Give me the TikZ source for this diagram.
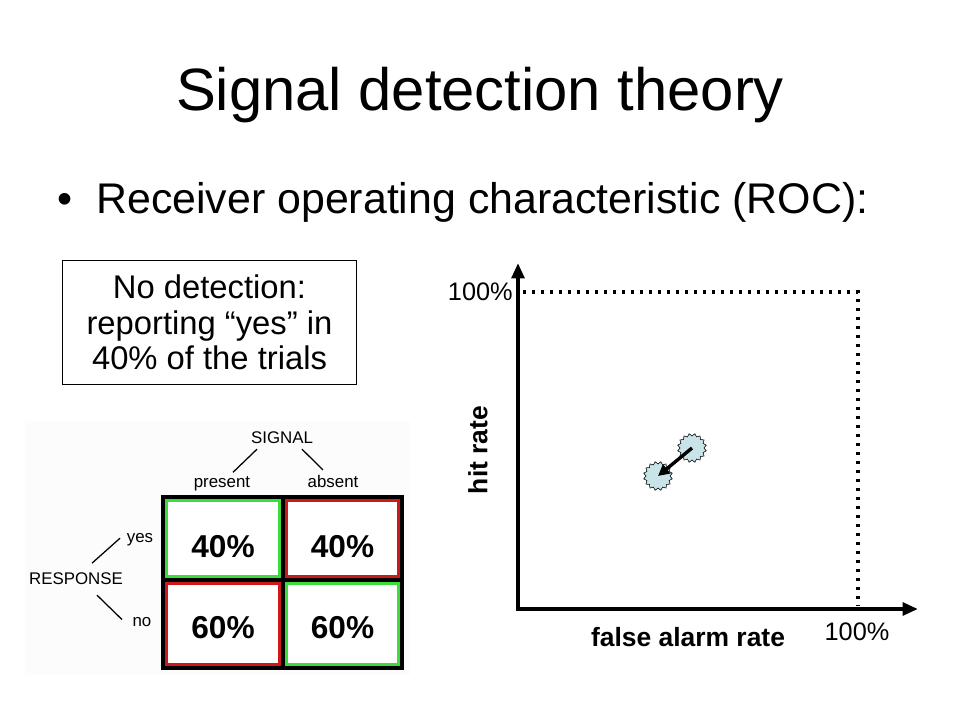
\documentclass[tikz,border=0pt]{standalone}
\usepackage{fontspec}
\setmainfont{Liberation Sans}
\usetikzlibrary{arrows.meta,calc,positioning,shapes.geometric}
\definecolor{cellgreen}{RGB}{60,220,60}
\definecolor{cellred}{RGB}{205,25,25}
\definecolor{gearblue}{RGB}{200,228,232}

\begin{document}
\begin{tikzpicture}[x=0.025cm,y=-0.025cm,>={Triangle[length=11pt,width=9pt]},
    lbl/.style={inner sep=0pt,anchor=base,font=\fontsize{12}{14}\selectfont},
    pct/.style={inner sep=0pt,font=\bfseries\fontsize{22.5}{26}\selectfont},
    cell/.style={minimum width=80pt,line width=2pt,inner sep=0pt,fill=white},
    gear/.style={star,star points=16,star point ratio=0.82,minimum size=17pt,
                 inner sep=0pt,draw=black,line width=0.4pt,fill=gearblue},
    axis/.style={line width=2.9pt},
    dotline/.style={line width=2.2pt,dash pattern=on 2.2pt off 4.2pt},
    axlbl/.style={inner sep=0pt,font=\fontsize{18}{21}\selectfont}]

    \useasboundingbox (0,0) rectangle (960,720);

% the title

    \node[anchor=base,font=\fontsize{42.5}{50}\selectfont] (title) at (480,111)
        {Signal detection theory};
    \node[anchor=base west,inner sep=0pt,font=\fontsize{30.5}{36}\selectfont] (roc)
        at (96,214) {Receiver operating characteristic (ROC):};
    \node[anchor=base,inner sep=0pt,font=\fontsize{30.5}{36}\selectfont] (bullet)
        at (65,214) {\textbullet};

    \node[draw,line width=0.8pt,minimum width=209pt,minimum height=88.6pt,align=center,
        font=\fontsize{23.3}{25.2}\selectfont] (nodet) at (209.5,322.5)
        {No detection:\\reporting “yes” in\\40\% of the trials};

% the table

    \fill[black!1] (25,421) rectangle (410,675);

    \node[cell,draw=cellgreen,minimum height=54.5pt] (tl) at (223,538.5) {};
    \node[cell,draw=cellred,minimum height=54.5pt] (tr) at (342.5,538.5) {};
    \node[cell,draw=cellred,minimum height=58pt] (bl) at (223,624) {};
    \node[cell,draw=cellgreen,minimum height=58pt] (br) at (342.5,624) {};

    \draw[line width=2.2pt] (163,497) rectangle (402,668);
    \draw[line width=2.2pt] (283,497) -- (283,668);
    \draw[line width=2.2pt] (163,580) -- (402,580);

    \node[pct] (tlpct) at ($(tl)+(0,8)$) {40\%};
    \node[pct] (trpct) at ($(tr)+(0,8)$) {40\%};
    \node[pct] (blpct) at ($(bl)+(0,4)$) {60\%};
    \node[pct] (brpct) at ($(br)+(0,4)$) {60\%};

    \node[lbl] (signal) at (282,444) {SIGNAL};
    \node[lbl] (present) at (222,488) {present};
    \node[lbl] (absent) at (333,488) {absent};
    \node[lbl] (response) at (76,584) {RESPONSE};
    \node[lbl] (yes) at (140,542) {yes};
    \node[lbl] (no) at (142,626) {no};

    \draw[line width=0.9pt] ($(signal)+(-25,11)$) -- ($(present)+(11,-12)$);
    \draw[line width=0.9pt] ($(signal)+(20,11)$) -- ($(absent)+(-10,-12)$);
    \draw[line width=0.9pt] ($(response)+(16,-15)$) -- ($(yes)+(-20,-1)$);
    \draw[line width=0.9pt] ($(response)+(21,17)$) -- ($(no)+(-20,-2)$);

% the roc plot

    \coordinate (O) at (518,609);
    \coordinate (ytop) at (518,263);
    \coordinate (xend) at (918,609);
    \coordinate (hh) at (858,292);

    \draw[dotline] (523,292) -- (hh) -- (858,605);
    \draw[axis,->] (O) -- (ytop);
    \draw[axis,->] ([xshift=-1.45pt]O) -- (xend);

    \node[axlbl,anchor=east] (yfull) at (513,292) {100\%};
    \node[axlbl] (xfull) at (857,632) {100\%};
    \node[axlbl,font=\bfseries\fontsize{18.8}{22}\selectfont] (far) at (688,637)
        {false alarm rate};
    \node[axlbl,rotate=90,font=\bfseries\fontsize{18.8}{22}\selectfont] (hr) at (478,450)
        {hit rate};

    \node[gear] (g1) at (692,448) {};
    \node[gear] (g2) at (658,476) {};
    \draw[->,line width=2.4pt,>={Triangle[length=8pt,width=8pt]}] (g1.center) -- (g2.center);

\end{tikzpicture}
\end{document}
